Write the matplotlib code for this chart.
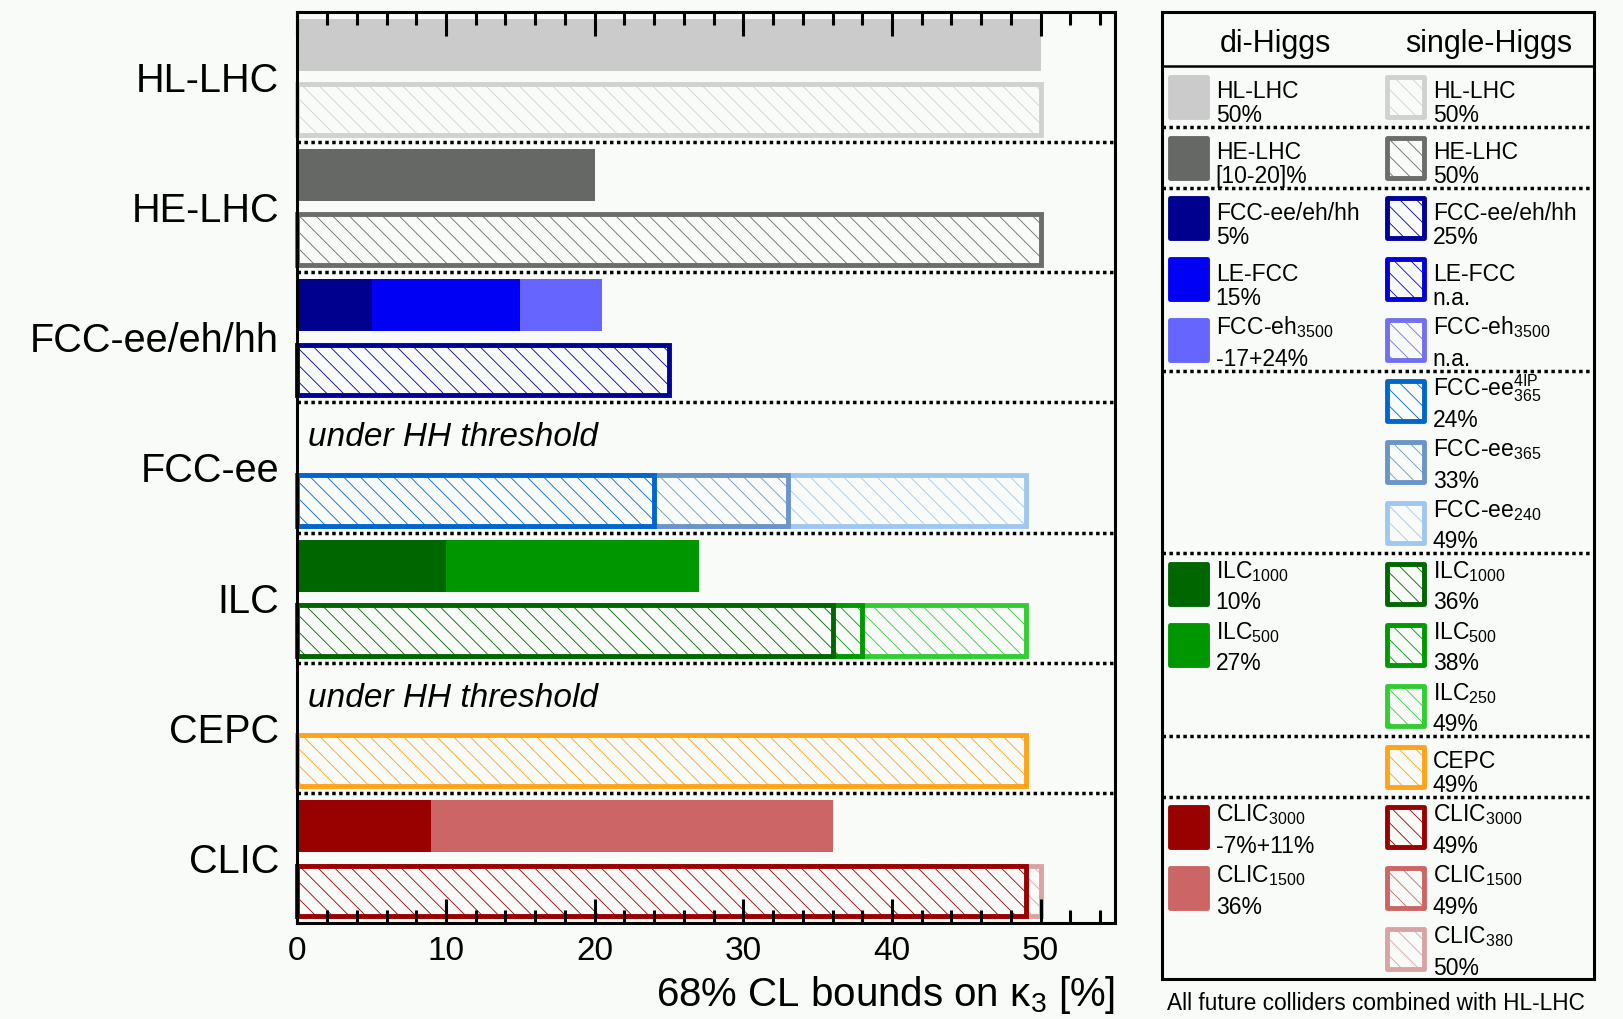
import numpy as np
import matplotlib
matplotlib.use("Agg")
from matplotlib import pyplot as plt
from matplotlib.patches import Rectangle

plt.rcParams['font.family'] = ['Liberation Sans', 'DejaVu Sans']
plt.rcParams['mathtext.fontset'] = 'custom'
plt.rcParams['mathtext.rm'] = 'Liberation Sans'
plt.rcParams['mathtext.it'] = 'Liberation Sans:italic'
plt.rcParams['mathtext.bf'] = 'Liberation Sans:bold'
plt.rcParams['hatch.linewidth'] = 0.6

# colliders (one group of rows each)
colliders = ['HL-LHC', 'HE-LHC', 'FCC-ee/eh/hh', 'FCC-ee', 'ILC', 'CEPC', 'CLIC']

# di-Higgs results
di_group = [0, 1, 2, 2, 2, 4, 4, 6, 6]
di_value = [50, 20, 5, 15, 20.5, 10, 27, 9, 36]
di_label = ['HL-LHC', 'HE-LHC', 'FCC-ee/eh/hh', 'LE-FCC', r'FCC-eh$_{3500}$',
            r'ILC$_{1000}$', r'ILC$_{500}$', r'CLIC$_{3000}$', r'CLIC$_{1500}$']
di_text = ['50%', '[10-20]%', '5%', '15%', '-17+24%', '10%', '27%', '-7%+11%', '36%']
di_color = ['#cbcbcb', '#666866', '#00008f', '#0000f5', '#6666ff',
            '#006600', '#009600', '#990000', '#cc6666']

# single-Higgs results (nan = not available)
single_group = [0, 1, 2, 2, 2, 3, 3, 3, 4, 4, 4, 5, 6, 6, 6]
single_value = [50, 50, 25, np.nan, np.nan, 24, 33, 49, 36, 38, 49, 49, 49, 49, 50]
single_label = ['HL-LHC', 'HE-LHC', 'FCC-ee/eh/hh', 'LE-FCC', r'FCC-eh$_{3500}$',
                r'FCC-ee$_{365}^{\mathrm{4IP}}$', r'FCC-ee$_{365}$', r'FCC-ee$_{240}$',
                r'ILC$_{1000}$', r'ILC$_{500}$', r'ILC$_{250}$', 'CEPC',
                r'CLIC$_{3000}$', r'CLIC$_{1500}$', r'CLIC$_{380}$']
single_text = ['50%', '50%', '25%', 'n.a.', 'n.a.', '24%', '33%', '49%',
               '36%', '38%', '49%', '49%', '49%', '49%', '50%']
single_color = ['#d0d2d0', '#6b6d6b', '#000099', '#0000dd', '#7070f0',
                '#0066cc', '#6b95c8', '#9fc8f0', '#006600', '#009900', '#33cc33',
                '#ffa31a', '#990000', '#cc6666', '#d8a3a3']

W, H = 1624, 1019
bg = '#f9fbf9'
fig = plt.figure(figsize=(W / 100, H / 100), dpi=100, facecolor=bg)
ax = fig.add_axes([297.3 / W, (H - 923.3) / H, (1115 - 297.3) / W, (923.3 - 11.7) / H])
ax.set_facecolor(bg)
ax.set_axisbelow(False)

hatch = '\\\\'
bar_h = 0.4
lw_edge = 3.5

# di-Higgs bars (upper half of each group), longest drawn first
order = sorted(range(len(di_value)), key=lambda i: (-di_value[i], -i))
for i in order:
    ax.barh(di_group[i] + 0.255, di_value[i], height=bar_h, color=di_color[i],
            edgecolor='none', zorder=1)

# single-Higgs bars (lower half), hatched with thick outline
order = sorted([i for i in range(len(single_value)) if not np.isnan(single_value[i])],
               key=lambda i: (-single_value[i], -i))
for i in order:
    y = single_group[i] + 0.752
    ax.barh(y, single_value[i], height=bar_h - 0.01, color=bg, edgecolor=single_color[i],
            hatch=hatch, linewidth=0, zorder=1.5)
    ax.barh(y, single_value[i], height=bar_h - 0.01, fill=False, edgecolor=single_color[i],
            linewidth=lw_edge, zorder=1.5, clip_on=False)

# groups without a di-Higgs measurement
for g in range(len(colliders)):
    if g not in di_group:
        ax.text(0.7, g + 0.27, 'under HH threshold', style='italic', fontsize=24,
                va='center', ha='left')

for g in range(1, len(colliders)):
    ax.axhline(g, color='black', ls=(0, (1, 1)), lw=2.5, zorder=2)

ax.set_xlim(0, 55)
ax.set_ylim(len(colliders), 0)
ax.set_yticks(np.arange(len(colliders)) + 0.5, colliders)
ax.tick_params(axis='y', length=0, pad=13, labelsize=28.5)
ax.set_xticks(np.arange(0, 51, 10))
ax.set_xticks(np.arange(0, 55, 2), minor=True)
ax.tick_params(axis='x', which='both', direction='in', top=True, bottom=True,
               width=2.2, labelsize=24, pad=9)
ax.tick_params(axis='x', which='major', length=17)
ax.tick_params(axis='x', which='minor', length=9.5)
for s in ax.spines.values():
    s.set_linewidth(2.2)
    s.set_zorder(6)
ax.set_xlabel('68% CL bounds on κ$_3$ [%]', loc='right', fontsize=29, labelpad=5)

# legend panel
leg = fig.add_axes([1161.7 / W, (H - 979.3) / H, (1594.3 - 1161.7) / W, (979.3 - 11.7) / H])
leg.set_facecolor(bg)
leg.set_xlim(1161.7, 1594.3)
leg.set_ylim(979.3, 11.7)
leg.set_xticks([])
leg.set_yticks([])
for s in leg.spines.values():
    s.set_linewidth(2.2)

row0, pitch = 96.7, 60.9
leg.axhline(65.7, color='black', lw=1.8)
leg.text(1275, 52, 'di-Higgs', fontsize=22, ha='center', va='baseline')
leg.text(1489, 52, 'single-Higgs', fontsize=22, ha='center', va='baseline')

first_row = {}
for r, g in enumerate(single_group):
    first_row.setdefault(g, r)
    if r + 1 < len(single_group) and single_group[r + 1] != g:
        leg.axhline(row0 + pitch * (r + 0.5), color='black', ls=(0, (1, 1)), lw=2.5)


def entry(x, yc, label, text):
    dy = -6 if '$' in label else 1.5
    leg.text(x, yc + dy, label, fontsize=16.5, va='baseline', ha='left')
    leg.text(x, yc + 25.5, text, fontsize=16.5, va='baseline', ha='left')


sw, sh = 37, 40
for i in range(len(di_value)):
    r = first_row[di_group[i]] + di_group[:i].count(di_group[i])
    yc = row0 + pitch * r
    leg.add_patch(Rectangle((1169.8, yc - sh / 2), sw, sh, facecolor=di_color[i],
                            edgecolor=di_color[i], lw=3.5, joinstyle='round'))
    entry(1215.7, yc, di_label[i], di_text[i])

for r in range(len(single_value)):
    yc = row0 + pitch * r
    c = single_color[r]
    leg.add_patch(Rectangle((1386.8, yc - sh / 2), sw, sh, facecolor='none',
                            edgecolor=c, lw=0, hatch=hatch))
    leg.add_patch(Rectangle((1386.8, yc - sh / 2), sw, sh, fill=False,
                            edgecolor=c, lw=lw_edge, joinstyle='round'))
    entry(1432.7, yc, single_label[r], single_text[r])

fig.text(1166.7 / W, 1 - 1010 / H, 'All future colliders combined with HL-LHC',
         fontsize=16.3, ha='left', va='baseline')

fig.savefig('out.png', dpi=100, facecolor=bg)
